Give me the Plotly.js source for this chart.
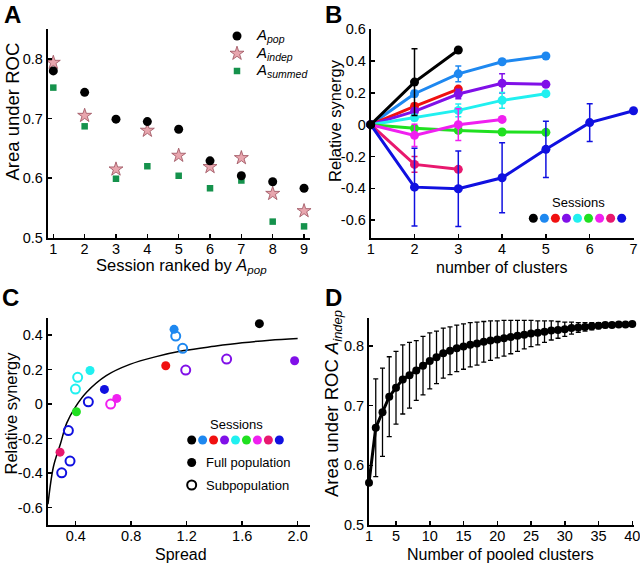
<!DOCTYPE html>
<html><head><meta charset="utf-8">
<script src="https://cdn.plot.ly/plotly-3.0.1.min.js"></script>
<style>html,body{margin:0;padding:0;background:#fff}#chart{width:640px;height:565px}</style>
</head><body><div id="chart"></div>
<script>
// ---------- Panel A ----------
const aSessions = [1,2,3,4,5,6,7,8,9];
const aPop    = [0.780,0.744,0.699,0.695,0.682,0.629,0.604,0.594,0.583];
const aIndep  = [0.794,0.705,0.615,0.680,0.638,0.619,0.634,0.574,0.545];
const aSummed = [0.752,0.687,0.599,0.620,0.604,0.583,0.596,0.527,0.519];
const aYTicks = [0.5,0.6,0.7,0.8];
const aYText  = ['0.5','0.6','0.7','0.8'];
const aLegendNames = ['pop','indep','summed'];

// ---------- Panel B ----------
const sessionIds = [1,2,3,4,5,6,7,8,9];
const sessionColors = ['#000000','#1E88F0','#F01010','#8010E8','#20F0F0','#20E020','#F020F0','#E8186E','#1010E0'];
const bS1 = [0,0.268,0.470];
const bS2 = [0,0.195,0.320,0.396,0.432];
const bS3 = [0,0.115,0.224];
const bS4 = [0,0.084,0.193,0.260,0.254];
const bS5 = [0,0.044,0.090,0.153,0.195];
const bS6 = [0,-0.023,-0.036,-0.046,-0.048];
const bS7 = [0,-0.067,0.000,0.033];
const bS8 = [0,-0.250,-0.281];
const bS9 = [0,-0.393,-0.403,-0.334,-0.155,0.013,0.088];
const bE1 = [0,0.210,0];
const bE2 = [0,0.020,0.050,0.015,0];
const bE3 = [0,0.020,0];
const bE4 = [0,0.020,0.030,0.060,0];
const bE5 = [0,0.020,0.040,0.050,0];
const bE6 = [0,0.010,0.015,0.015,0];
const bE7 = [0,0.070,0.100,0];
const bE8 = [0,0.050,0];
const bE9 = [0,0.245,0.237,0.220,0.177,0.118,0];
const bXTicks = [1,2,3,4,5,6,7];
const bYTicks = [-0.6,-0.4,-0.2,0,0.2,0.4,0.6];
const bYText  = ['-0.6','-0.4','-0.2','0','0.2','0.4','0.6'];

// ---------- Panel C ----------
const cFullSpread  = [1.724,1.109,1.049,1.978,0.503,0.405,0.696,0.287,0.607];
const cFullSynergy = [0.466,0.433,0.222,0.251,0.195,-0.044,0.033,-0.278,0.085];
const cSubSession  = [2,2,4,4,5,5,7,9,9,9,9];
const cSubSpread   = [1.121,1.171,1.193,1.488,0.398,0.414,0.652,0.491,0.347,0.359,0.299];
const cSubSynergy  = [0.394,0.323,0.197,0.261,0.087,0.155,0.000,0.0135,-0.153,-0.330,-0.398];
const cFitSpread   = [0.2,0.24,0.29,0.335,0.395,0.48,0.62,0.79,0.98,1.18,1.4,1.6,1.8,2.0];
const cFitSynergy  = [-0.58,-0.36,-0.23,-0.11,-0.02,0.07,0.165,0.23,0.275,0.31,0.335,0.355,0.37,0.38];
const cXTicks = [0.4,0.8,1.2,1.6,2.0];
const cXText  = ['0.4','0.8','1.2','1.6','2.0'];
const cYTicks = [-0.6,-0.4,-0.2,0,0.2,0.4];
const cYText  = ['-0.6','-0.4','-0.2','0','0.2','0.4'];

// ---------- Panel D ----------
const dClusters = Array.from({length:40},(_,i)=>i+1);
const dAuc = [0.571,0.663,0.689,0.715,0.730,0.744,0.751,0.759,0.767,0.775,
              0.781,0.788,0.792,0.796,0.799,0.802,0.804,0.807,0.809,0.811,
              0.813,0.815,0.817,0.819,0.821,0.822,0.824,0.826,0.827,0.828,
              0.830,0.831,0.832,0.833,0.834,0.835,0.835,0.836,0.836,0.837];
const dErr = [0,0.082,0.074,0.067,0.061,0.058,0.055,0.050,0.049,0.047,
              0.044,0.042,0.040,0.039,0.038,0.037,0.036,0.034,0.033,0.031,
              0.030,0.028,0.026,0.024,0.022,0.020,0.018,0.016,0.014,0.012,
              0.010,0.008,0.007,0.006,0.005,0.004,0.003,0.002,0.001,0];
const dXTicks = [1,5,10,15,20,25,30,35,40];
const dYTicks = [0.5,0.6,0.7,0.8];
const dYText  = ['0.5','0.6','0.7','0.8'];

// ---------- helpers ----------
const W = 640, H = 565;
const FONT = '"Liberation Sans", Arial, Helvetica, sans-serif';
const px = p => p / W;
const py = p => 1 - p / H;
function axis(extra){
  return Object.assign({
    showline:true, linecolor:'#000', linewidth:2, mirror:false,
    ticks:'inside', ticklen:4, tickwidth:1.5, tickcolor:'#000',
    showgrid:false, zeroline:false, fixedrange:true, ticklabeloverflow:'allow',
    tickfont:{family:FONT, size:14.5, color:'#000'}
  }, extra);
}
function xaxisCfg(extra){ return axis(Object.assign({ticklabelstandoff:-3}, extra)); }
function hidden(extra){ return Object.assign({visible:false, fixedrange:true, showgrid:false, zeroline:false}, extra); }
const subA = s => '<i>A<sub>' + s + '</sub></i>';

const traces = [];
// Panel A
const mkSummed = {symbol:'square', size:6.5, color:'#15924C'};
const mkIndep  = {symbol:'star', size:10.5, color:'#E8A6AE', line:{color:'#9A4E5A', width:0.8}};
const mkPop    = {symbol:'circle', size:9, color:'#000'};
traces.push({type:'scatter', mode:'markers', x:aSessions, y:aSummed, xaxis:'x', yaxis:'y', marker:mkSummed, cliponaxis:false});
traces.push({type:'scatter', mode:'markers', x:aSessions, y:aIndep,  xaxis:'x', yaxis:'y', marker:mkIndep,  cliponaxis:false});
traces.push({type:'scatter', mode:'markers', x:aSessions, y:aPop,    xaxis:'x', yaxis:'y', marker:mkPop,    cliponaxis:false});
// Panel A legend markers (rows follow the legend order)
[mkPop, mkIndep, mkSummed].forEach((m,i)=>{
  traces.push({type:'scatter', mode:'markers', x:[0], y:[i], xaxis:'x5', yaxis:'y5', marker:m, cliponaxis:false, hoverinfo:'skip'});
});

// Panel B
const bSeries = [bS2,bS3,bS4,bS5,bS6,bS7,bS8,bS9,bS1];
const bErrs   = [bE2,bE3,bE4,bE5,bE6,bE7,bE8,bE9,bE1];
const bColIdx = [1,2,3,4,5,6,7,8,0];
bSeries.forEach((s,k)=>{
  const c = sessionColors[bColIdx[k]];
  traces.push({type:'scatter', mode:'lines+markers', x:s.map((_,i)=>i+1), y:s, xaxis:'x2', yaxis:'y2',
    line:{color:c, width:3}, marker:{color:c, size:9},
    error_y:{type:'data', array:bErrs[k], visible:true, color:c, thickness:1.5, width:3},
    cliponaxis:false});
});
traces.push({type:'scatter', mode:'markers', x:sessionIds, y:sessionIds.map(()=>0), xaxis:'x7', yaxis:'y7',
  marker:{color:sessionColors, size:9}, cliponaxis:false, hoverinfo:'skip'});

// Panel C
traces.push({type:'scatter', mode:'lines', x:cFitSpread, y:cFitSynergy, xaxis:'x3', yaxis:'y3',
  line:{color:'#000', width:1.5, shape:'spline'}, cliponaxis:true});
traces.push({type:'scatter', mode:'markers', x:cSubSpread, y:cSubSynergy, xaxis:'x3', yaxis:'y3',
  marker:{symbol:'circle-open', size:9, color:cSubSession.map(s=>sessionColors[s-1]), line:{width:2}},
  cliponaxis:false});
traces.push({type:'scatter', mode:'markers', x:cFullSpread, y:cFullSynergy, xaxis:'x3', yaxis:'y3',
  marker:{symbol:'circle', size:9, color:sessionColors}, cliponaxis:false});
traces.push({type:'scatter', mode:'markers', x:sessionIds, y:sessionIds.map(()=>0), xaxis:'x6', yaxis:'y6',
  marker:{color:sessionColors, size:9}, cliponaxis:false, hoverinfo:'skip'});
traces.push({type:'scatter', mode:'markers', x:[1], y:[1], xaxis:'x6', yaxis:'y6',
  marker:{color:'#000', size:9}, cliponaxis:false, hoverinfo:'skip'});
traces.push({type:'scatter', mode:'markers', x:[1], y:[2], xaxis:'x6', yaxis:'y6',
  marker:{symbol:'circle-open', color:'#000', size:9, line:{width:2}}, cliponaxis:false, hoverinfo:'skip'});

// Panel D
traces.push({type:'scatter', mode:'lines+markers', x:dClusters, y:dAuc, xaxis:'x4', yaxis:'y4',
  line:{color:'#000', width:3}, marker:{color:'#000', size:8},
  error_y:{type:'data', array:dErr, visible:true, color:'#000', thickness:1.3, width:2.5},
  cliponaxis:false});

const layout = {
  width:W, height:H, margin:{l:0,r:0,t:0,b:0},
  paper_bgcolor:'#fff', plot_bgcolor:'rgba(0,0,0,0)',
  font:{family:FONT, color:'#000'},
  showlegend:false,
  xaxis: xaxisCfg({domain:[px(47.7),px(310)], range:[0.821,9.19], tickvals:aSessions, anchor:'y'}),
  yaxis: axis({domain:[py(237.7),py(29)], range:[0.5,0.8504], tickvals:aYTicks, ticktext:aYText, anchor:'x'}),
  xaxis2: xaxisCfg({domain:[px(370.7),px(633.5)], range:[1,7], tickvals:bXTicks, anchor:'y2'}),
  yaxis2: axis({domain:[py(237.7),py(29)], range:[-0.711,0.602], tickvals:bYTicks, ticktext:bYText, anchor:'x2'}),
  xaxis3: xaxisCfg({domain:[px(47.7),px(310)], range:[0.198,2.089], tickvals:cXTicks, ticktext:cXText, anchor:'y3'}),
  yaxis3: axis({domain:[py(525),py(318.3)], range:[-0.700,0.497], tickvals:cYTicks, ticktext:cYText, anchor:'x3'}),
  xaxis4: xaxisCfg({domain:[px(369),px(633.5)], range:[1,40.18], tickvals:dXTicks, anchor:'y4'}),
  yaxis4: axis({domain:[py(525),py(318.3)], range:[0.5,0.8464], tickvals:dYTicks, ticktext:dYText, anchor:'x4'}),
  xaxis5: hidden({domain:[px(230),px(244)], range:[-1,1], anchor:'y5'}),
  yaxis5: hidden({domain:[py(79.75),py(27.25)], range:[2.5,-0.5], anchor:'x5'}),
  xaxis6: hidden({domain:[px(186.2),px(284.8)], range:[0.5,9.5], anchor:'y6'}),
  yaxis6: hidden({domain:[py(496.25),py(428.75)], range:[2.5,-0.5], anchor:'x6'}),
  xaxis7: hidden({domain:[px(527.8),px(627.2)], range:[0.5,9.5], anchor:'y7'}),
  yaxis7: hidden({domain:[py(228.3),py(208.3)], range:[-1,1], anchor:'x7'}),
  annotations: []
};
const ann = layout.annotations;
function addText(t, x, y, size, extra){
  ann.push(Object.assign({text:t, xref:'paper', yref:'paper', x:px(x), y:py(y), xanchor:'center', yanchor:'middle',
    showarrow:false, font:{family:FONT, size:size, color:'#000'}}, extra||{}));
}
// Panel letters
[['A',3,0],['B',324,0],['C',1,283],['D',324,283]].forEach(([t,x,y])=>{
  addText('<b>'+t+'</b>', x, y, 24, {xanchor:'left', yanchor:'top', borderpad:0});
});
// Axis titles
addText('Area under ROC', 11.5, 112, 18.5, {textangle:-90, borderpad:0});
addText('Relative synergy', 335, 121, 16.5, {textangle:-90, borderpad:0});
addText('Relative synergy', 10.5, 413, 16.5, {textangle:-90, borderpad:0});
addText('Area under ROC ' + subA('indep'), 333, 404, 18.5, {textangle:-90, borderpad:0});
addText('Session ranked by ' + subA('pop'), 181, 266, 16.5, {borderpad:0});
addText('number of clusters', 502, 267, 16, {borderpad:0});
addText('Spread', 181, 554.5, 16, {borderpad:0});
addText('Number of pooled clusters', 500, 554.5, 16, {borderpad:0});
// A legend text
aLegendNames.forEach((n,i)=>{
  ann.push({text:subA(n), xref:'x5', yref:'y5', x:0, y:i, xanchor:'left', yanchor:'middle', xshift:17,
    showarrow:false, font:{family:FONT, size:15, color:'#000'}});
});
// Session legends
addText('Sessions', 578, 202, 13);
addText('Sessions', 236, 425, 13);
ann.push({text:'Full population', xref:'x6', yref:'y6', x:1, y:1, xanchor:'left', yanchor:'middle', xshift:12,
  showarrow:false, font:{family:FONT, size:13, color:'#000'}});
ann.push({text:'Subpopulation', xref:'x6', yref:'y6', x:1, y:2, xanchor:'left', yanchor:'middle', xshift:12,
  showarrow:false, font:{family:FONT, size:13, color:'#000'}});

Plotly.newPlot('chart', traces, layout, {staticPlot:true, displayModeBar:false});
</script></body></html>
